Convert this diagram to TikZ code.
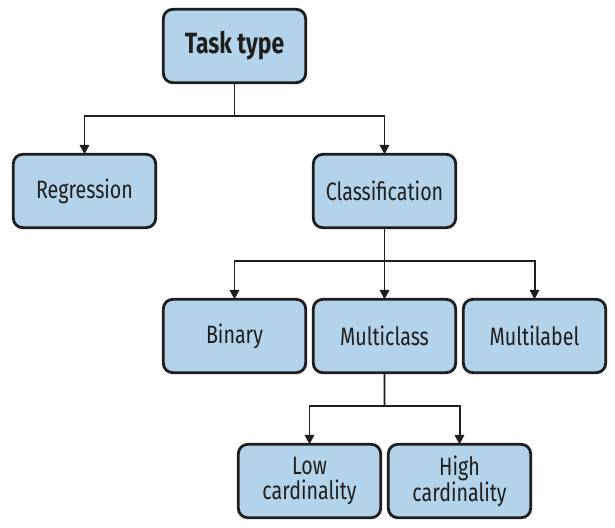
\documentclass[tikz,border=0pt]{standalone}
\usepackage{fontspec}
\setmainfont{Fira Sans}[FakeStretch=0.78]
\usepackage{tikz}
\usetikzlibrary{positioning, calc, arrows.meta}
\definecolor{boxblue}{RGB}{179,211,234}
\definecolor{inkdark}{RGB}{30,30,30}
\tikzstyle{Arrow} = [
    line width = 1.7pt,
    draw = inkdark,
    -{Triangle[length=8pt, width=8pt]}
]
\tikzstyle{Line} = [
    line width = 1.7pt,
    draw = inkdark
]

\begin{document}
\begin{tikzpicture}[
task/.style={
    rectangle,
    rounded corners = 8pt,
    draw = inkdark,
    line width = 2.4pt,
    fill = boxblue,
    text = inkdark,
    outer sep = 0pt,
    minimum width = 4.27cm,
    minimum height = 2.2cm,
    align = center,
    font = \fontsize{21.5}{22}\selectfont
    },
node distance = 2.15cm and 0.23cm
]
\useasboundingbox (-7.035,1.38) rectangle (11.415,-14.43);

\node [task, font = \bfseries\fontsize{25}{27}\selectfont] (tasktype) {Task type};
\node [task, below = of tasktype, xshift = -4.5cm] (regression) {Regression};
\node [task, below = of tasktype, xshift = 4.5cm] (classification) {Classification};

\node [task, below = of classification] (multiclass) {Multiclass};
\node [task, left = of multiclass] (binary) {Binary};
\node [task, right = of multiclass] (multilabel) {Multilabel};

\node [task, below = of multiclass, xshift = -2.25cm] (low) {Low\\cardinality};
\node [task, right = of low] (high) {High\\cardinality};

% splitting points
\coordinate (s1) at ($(tasktype.south)!0.47!(tasktype.south |- regression.north)$);
\coordinate (s2) at ($(classification.south)!0.47!(classification.south |- multiclass.north)$);
\coordinate (s3) at ($(multiclass.south)!0.47!(multiclass.south |- low.north)$);

\draw[Line] (tasktype.south) -- (s1);
\draw[Arrow] (s1) -| (regression.north);
\draw[Arrow] (s1) -| (classification.north);

\draw[Arrow] (classification.south) -- (multiclass.north);
\draw[Arrow] (s2) -| (binary.north);
\draw[Arrow] (s2) -| (multilabel.north);

\draw[Line] (multiclass.south) -- (s3);
\draw[Arrow] (s3) -| (low.north);
\draw[Arrow] (s3) -| (high.north);

\end{tikzpicture}
\end{document}
